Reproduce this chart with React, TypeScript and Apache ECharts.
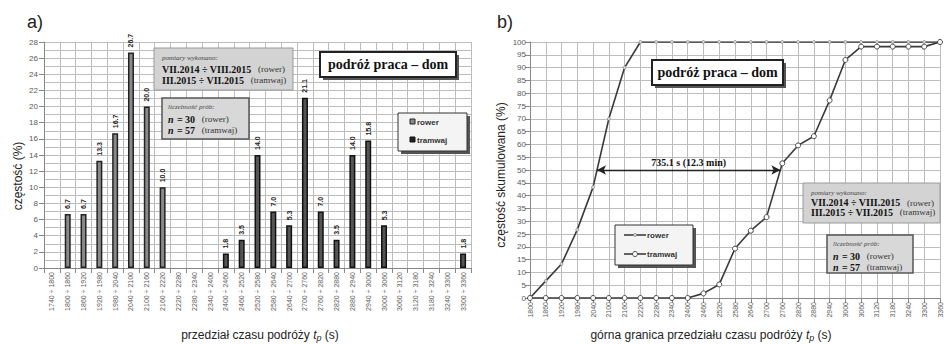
import React, { useEffect, useRef } from "react";
import * as echarts from "echarts";

const intervalLabels = [
  "1740 ÷ 1800", "1800 ÷ 1860", "1860 ÷ 1920", "1920 ÷ 1980", "1980 ÷ 2040",
  "2040 ÷ 2100", "2100 ÷ 2160", "2160 ÷ 2220", "2220 ÷ 2280", "2280 ÷ 2340",
  "2340 ÷ 2400", "2400 ÷ 2460", "2460 ÷ 2520", "2520 ÷ 2580", "2580 ÷ 2640",
  "2640 ÷ 2700", "2700 ÷ 2760", "2760 ÷ 2820", "2820 ÷ 2880", "2880 ÷ 2940",
  "2940 ÷ 3000", "3000 ÷ 3060", "3060 ÷ 3120", "3120 ÷ 3180", "3180 ÷ 3240",
  "3240 ÷ 3300", "3300 ÷ 3360",
];
const rowerFreq = [
  null, 6.7, 6.7, 13.3, 16.7, 26.7, 20.0, 10.0, null, null,
  null, null, null, null, null, null, null, null, null, null,
  null, null, null, null, null, null, null,
];
const tramwajFreq = [
  null, null, null, null, null, null, null, null, null, null,
  null, 1.8, 3.5, 14.0, 7.0, 5.3, 21.1, 7.0, 3.5, 14.0,
  15.8, 5.3, null, null, null, null, 1.8,
];
const upperBounds = [
  1800, 1860, 1920, 1980, 2040, 2100, 2160, 2220, 2280, 2340,
  2400, 2460, 2520, 2580, 2640, 2700, 2760, 2820, 2880, 2940,
  3000, 3060, 3120, 3180, 3240, 3300, 3360,
];
const rowerCum = [
  0, 6.7, 13.3, 26.7, 43.3, 70.0, 90.0, 100, 100, 100,
  100, 100, 100, 100, 100, 100, 100, 100, 100, 100,
  100, 100, 100, 100, 100, 100, 100,
];
const tramwajCum = [
  0, 0, 0, 0, 0, 0, 0, 0, 0, 0,
  0, 1.8, 5.3, 19.3, 26.3, 31.6, 52.6, 59.6, 63.2, 77.2,
  93.0, 98.2, 98.2, 98.2, 98.2, 98.2, 100,
];
const medianGapLabel = "735.1 s (12.3 min)";
const medianLevel = 50;

function crossAt(xs: number[], ys: number[], level: number): number {
  for (let i = 1; i < ys.length; i++) {
    if (ys[i] >= level && ys[i - 1] < level) {
      return xs[i - 1] + ((level - ys[i - 1]) / (ys[i] - ys[i - 1])) * (xs[i] - xs[i - 1]);
    }
  }
  return xs[0];
}

const SANS = "Liberation Sans, Arial, sans-serif";
const SERIF = "Liberation Serif, Times New Roman, serif";
const GRID_COLOR = "#bcbcbc";

function shadowBox(x: number, y: number, w: number, h: number, fill: string, stroke: string, lw: number, shadow: boolean) {
  const els: any[] = [];
  if (shadow) {
    els.push({ type: "rect", shape: { x: x + 3, y: y + 3, width: w, height: h }, style: { fill: "#555" } });
  }
  els.push({ type: "rect", shape: { x, y, width: w, height: h }, style: { fill, stroke, lineWidth: lw } });
  return els;
}

function infoBoxes(px: number, py: number, pw: number, ph: number, lx: number, ly: number, lw: number, lh: number, lineGap: number) {
  const els: any[] = [];
  els.push(...shadowBox(px, py, pw, ph, "#d3d3d3", "#9a9a9a", 1, false));
  els.push({ type: "text", x: px + 8, y: py + 10, style: { text: "pomiary wykonano:", font: `italic 7px ${SERIF}`, fill: "#444", verticalAlign: "middle" } });
  const rich = {
    b: { fontFamily: SERIF, fontWeight: "bold", fontSize: 10, fill: "#111" },
    r: { fontFamily: SERIF, fontSize: 9, fill: "#333" },
  };
  els.push({ type: "text", x: px + 8, y: py + 10 + lineGap, style: { text: "{b|VII.2014 ÷ VIII.2015}  {r|(rower)}", rich, verticalAlign: "middle" } });
  els.push({ type: "text", x: px + 8, y: py + 10 + 2 * lineGap, style: { text: "{b|III.2015 ÷ VII.2015}  {r|(tramwaj)}", rich, verticalAlign: "middle" } });

  els.push(...shadowBox(lx, ly, lw, lh, "#d8d8d8", "#555", 1.5, false));
  els.push({ type: "text", x: lx + 6, y: ly + 9, style: { text: "liczebność prób:", font: `italic 7px ${SERIF}`, fill: "#444", verticalAlign: "middle" } });
  const rich2 = {
    n: { fontFamily: SERIF, fontStyle: "italic", fontWeight: "bold", fontSize: 10, fill: "#111" },
    b: { fontFamily: SERIF, fontWeight: "bold", fontSize: 10, fill: "#111" },
    r: { fontFamily: SERIF, fontSize: 9, fill: "#333" },
  };
  els.push({ type: "text", x: lx + 6, y: ly + 21, style: { text: "{n|n} {b|= 30}  {r|(rower)}", rich: rich2, verticalAlign: "middle" } });
  els.push({ type: "text", x: lx + 6, y: ly + 32, style: { text: "{n|n} {b|= 57}  {r|(tramwaj)}", rich: rich2, verticalAlign: "middle" } });
  return els;
}

function titleBox(x: number, y: number, w: number, h: number) {
  return [
    ...shadowBox(x, y, w, h, "#ffffff", "#222", 2, true),
    { type: "text", x: x + w / 2, y: y + h / 2, style: { text: "podróż praca – dom", font: `bold 14px ${SERIF}`, fill: "#111", align: "center", verticalAlign: "middle" } },
  ];
}

export default function App() {
  const ref = useRef<HTMLDivElement>(null);
  useEffect(() => {
    if (!ref.current) return;
    const chart = echarts.init(ref.current, null, { renderer: "svg" });
    const x1 = crossAt(upperBounds, rowerCum, medianLevel);
    const x2 = crossAt(upperBounds, tramwajCum, medianLevel);

    const barLabel = {
      show: true,
      position: "top",
      rotate: 90,
      align: "left",
      verticalAlign: "middle",
      distance: 5,
      fontSize: 7,
      fontWeight: "bold",
      fontFamily: SANS,
      color: "#222",
      formatter: (p: any) => (p.value == null ? "" : Number(p.value).toFixed(1)),
    };

    const axisLabelSmall = { fontSize: 7, color: "#5a5a5a", fontFamily: SANS };

    const rawGraphic: any[] = [
      { type: "text", x: 27, y: 13, style: { text: "a)", font: `18px ${SANS}`, fill: "#222" } },
      { type: "text", x: 497, y: 13, style: { text: "b)", font: `18px ${SANS}`, fill: "#222" } },
      { type: "text", x: 18, y: 176, rotation: Math.PI / 2, style: { text: "częstość (%)", font: `12px ${SANS}`, fill: "#222", align: "center", verticalAlign: "middle" } },
      { type: "text", x: 501, y: 175, rotation: Math.PI / 2, style: { text: "częstość skumulowana (%)", font: `12px ${SANS}`, fill: "#222", align: "center", verticalAlign: "middle" } },
      {
        type: "text", x: 260, y: 335,
        style: {
          text: "{a|przedział czasu podróży }{t|t}{p|p}{a| (s)}",
          align: "center", verticalAlign: "middle",
          rich: {
            a: { fontFamily: SANS, fontSize: 12, fill: "#222" },
            t: { fontFamily: SANS, fontSize: 12, fontStyle: "italic", fill: "#222" },
            p: { fontFamily: SANS, fontSize: 9, fontStyle: "italic", fill: "#222", padding: [6, 0, 0, 0] },
          },
        },
      },
      {
        type: "text", x: 711, y: 335,
        style: {
          text: "{a|górna granica przedziału czasu podróży }{t|t}{p|p}{a| (s)}",
          align: "center", verticalAlign: "middle",
          rich: {
            a: { fontFamily: SANS, fontSize: 12, fill: "#222" },
            t: { fontFamily: SANS, fontSize: 12, fontStyle: "italic", fill: "#222" },
            p: { fontFamily: SANS, fontSize: 9, fontStyle: "italic", fill: "#222", padding: [6, 0, 0, 0] },
          },
        },
      },
      ...infoBoxes(154, 48, 139, 42, 162, 98, 87, 41, 11),
      ...titleBox(320, 52, 136, 25),
      ...titleBox(652, 60, 131, 25),
      ...infoBoxes(803, 183, 137, 40, 827, 235, 86, 38, 9.5),
      // left legend
      ...shadowBox(398, 113, 69, 38, "#f4f4f4", "#333", 1, true),
      { type: "rect", shape: { x: 410, y: 119, width: 5, height: 5 }, style: { fill: "#8a8a8a", stroke: "#222", lineWidth: 1 } },
      { type: "text", x: 417, y: 122, style: { text: "rower", font: `bold 8px ${SANS}`, fill: "#333", verticalAlign: "middle" } },
      { type: "rect", shape: { x: 410, y: 137, width: 5, height: 5 }, style: { fill: "#222", stroke: "#111", lineWidth: 1 } },
      { type: "text", x: 417, y: 140, style: { text: "tramwaj", font: `bold 8px ${SANS}`, fill: "#333", verticalAlign: "middle" } },
      // right legend
      ...shadowBox(615, 225, 78, 40, "#f4f4f4", "#333", 1, true),
      { type: "line", shape: { x1: 624, y1: 235, x2: 646, y2: 235 }, style: { stroke: "#333", lineWidth: 1.5 } },
      { type: "circle", shape: { cx: 635, cy: 235, r: 1.5 }, style: { fill: "#ddd", stroke: "#777", lineWidth: 0.8 } },
      { type: "text", x: 647, y: 235, style: { text: "rower", font: `bold 8px ${SANS}`, fill: "#333", verticalAlign: "middle" } },
      { type: "line", shape: { x1: 624, y1: 254, x2: 646, y2: 254 }, style: { stroke: "#333", lineWidth: 1.5 } },
      { type: "circle", shape: { cx: 635, cy: 254, r: 2.5 }, style: { fill: "#fff", stroke: "#444", lineWidth: 1 } },
      { type: "text", x: 647, y: 254, style: { text: "tramwaj", font: `bold 8px ${SANS}`, fill: "#333", verticalAlign: "middle" } },
    ];
    const graphic = rawGraphic.map((g) => ({ ...g, silent: true, z: 100, zlevel: 0 }));

    chart.setOption({
      animation: false,
      backgroundColor: "#ffffff",
      textStyle: { fontFamily: SANS },
      grid: [
        { left: 44, top: 42, width: 427, height: 226 },
        { left: 530, top: 42, width: 410, height: 256 },
      ],
      xAxis: [
        {
          type: "category",
          gridIndex: 0,
          data: intervalLabels,
          boundaryGap: true,
          axisLine: { show: true, lineStyle: { color: "#888" } },
          axisTick: { show: true, lineStyle: { color: "#888" } },
          axisLabel: { ...axisLabelSmall, interval: 0, rotate: 90, margin: 4 },
          splitLine: { show: true, interval: 0, lineStyle: { color: GRID_COLOR, width: 1 } },
        },
        {
          type: "value",
          gridIndex: 1,
          min: 1800,
          max: 3360,
          interval: 60,
          axisLine: { show: true, lineStyle: { color: "#888" } },
          axisTick: { show: true, lineStyle: { color: "#888" } },
          axisLabel: { ...axisLabelSmall, rotate: 90, margin: 4, showMaxLabel: true, showMinLabel: true, formatter: (v: number) => String(v) },
          splitLine: { show: true, lineStyle: { color: GRID_COLOR, width: 1 } },
        },
      ],
      yAxis: [
        {
          type: "value",
          gridIndex: 0,
          min: 0,
          max: 28,
          interval: 2,
          axisLine: { show: true, lineStyle: { color: "#888" } },
          axisTick: { show: true, lineStyle: { color: "#888" } },
          axisLabel: { fontSize: 8, color: "#5a5a5a", fontFamily: SANS, margin: 6 },
          splitLine: { show: true, lineStyle: { color: GRID_COLOR, width: 1 } },
          minorTick: { show: false, splitNumber: 2 },
          minorSplitLine: { show: true, lineStyle: { color: GRID_COLOR, width: 1 } },
        },
        {
          type: "value",
          gridIndex: 1,
          min: 0,
          max: 100,
          interval: 5,
          axisLine: { show: true, lineStyle: { color: "#888" } },
          axisTick: { show: true, lineStyle: { color: "#888" } },
          axisLabel: { fontSize: 8, color: "#5a5a5a", fontFamily: SANS, margin: 4 },
          splitLine: { show: true, lineStyle: { color: GRID_COLOR, width: 1 } },
        },
      ],
      series: [
        {
          name: "rower",
          type: "bar",
          xAxisIndex: 0,
          yAxisIndex: 0,
          data: rowerFreq,
          barWidth: 6,
          barGap: "-100%",
          itemStyle: { color: "#8a8a8a", borderColor: "#222", borderWidth: 1.5 },
          label: barLabel,
        },
        {
          name: "tramwaj",
          type: "bar",
          xAxisIndex: 0,
          yAxisIndex: 0,
          data: tramwajFreq,
          barWidth: 6,
          barGap: "-100%",
          itemStyle: { color: "#555", borderColor: "#111", borderWidth: 1.5 },
          label: barLabel,
        },
        {
          name: "rower",
          type: "line",
          xAxisIndex: 1,
          yAxisIndex: 1,
          data: upperBounds.map((x, i) => [x, rowerCum[i]]),
          symbol: "circle",
          symbolSize: 3,
          lineStyle: { color: "#3a3a3a", width: 1.6 },
          itemStyle: { color: "#ddd", borderColor: "#888", borderWidth: 0.8 },
          markLine: {
            silent: true,
            symbol: ["arrow", "arrow"],
            symbolSize: [7, 9],
            lineStyle: { color: "#222", width: 1.3, type: "solid" },
            label: {
              show: true,
              position: "middle",
              formatter: medianGapLabel,
              fontFamily: SERIF,
              fontWeight: "bold",
              fontSize: 10,
              color: "#111",
              distance: 3,
            },
            data: [[{ coord: [x1, medianLevel] }, { coord: [x2, medianLevel] }]],
          },
        },
        {
          name: "tramwaj",
          type: "line",
          xAxisIndex: 1,
          yAxisIndex: 1,
          data: upperBounds.map((x, i) => [x, tramwajCum[i]]),
          symbol: "circle",
          symbolSize: 5,
          lineStyle: { color: "#3a3a3a", width: 1.6 },
          itemStyle: { color: "#fff", borderColor: "#444", borderWidth: 1 },
        },
      ],
      graphic,
    });
    return () => chart.dispose();
  }, []);
  return (
    <div
      ref={ref}
      style={{ position: "absolute", left: 0, top: 0, width: 944, height: 344, background: "#fff" }}
    />
  );
}
